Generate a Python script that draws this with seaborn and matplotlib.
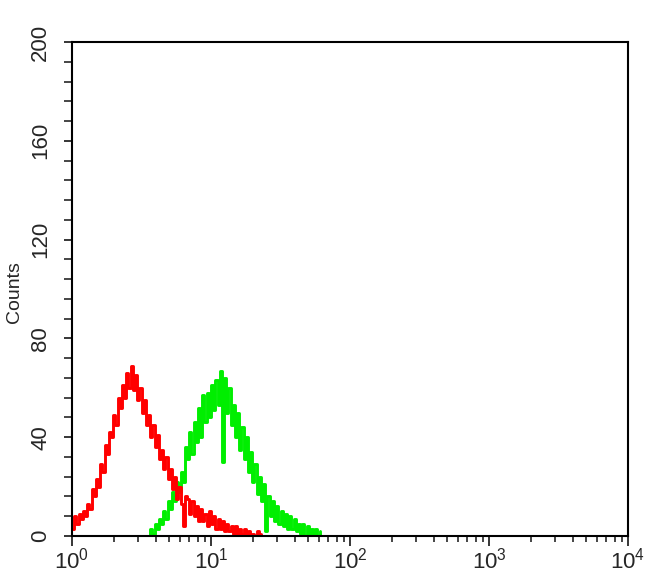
import numpy as np
import pandas as pd
import matplotlib
matplotlib.use("Agg")
import matplotlib.pyplot as plt
import seaborn as sns
from matplotlib.ticker import MultipleLocator, LogLocator, NullFormatter

# ---------------- data ----------------
bins_per_decade = 64          # channel resolution on the log axis
red_start_bin = 0
red_counts = [3, 8, 5, 9, 7, 10, 8, 13, 11, 19, 16, 23, 20, 29, 26, 37, 33, 42,
              40, 49, 45, 56, 52, 61, 56, 66, 60, 69, 59, 65, 55, 60, 50, 55,
              45, 49, 40, 45, 36, 41, 31, 35, 27, 32, 23, 27, 19, 24, 15, 20,
              13, 4, 16, 15, 9, 14, 8, 12, 6, 11, 6, 9, 4, 10, 5, 8, 3, 7, 3,
              6, 2, 5, 2, 4, 1, 4, 0, 3, 1, 3, 0, 2, 0, 1, 0, 2, 0, 1]
green_start_bin = 35
green_counts = [0, 3, 1, 5, 3, 7, 5, 10, 7, 14, 11, 18, 14, 22, 18, 26, 22, 36,
                31, 42, 33, 46, 38, 52, 40, 57, 46, 58, 48, 61, 51, 63, 53, 67,
                30, 64, 50, 60, 45, 53, 40, 50, 35, 44, 31, 40, 26, 34, 22, 29,
                17, 24, 14, 21, 2, 16, 8, 14, 6, 12, 5, 10, 4, 9, 3, 8, 3, 7,
                2, 5, 1, 5, 0, 4, 1, 3, 0, 3, 0, 2]
series_colors = {"red": "#ff0000", "green": "#00ee00"}
y_ticks = [0, 40, 80, 120, 160, 200]
x_tick_exponents = [0, 1, 2, 3, 4]
y_label = "Counts"


def channel_edges(start, n):
    return 10 ** (np.arange(start, start + n) / bins_per_decade)


df = pd.concat([
    pd.DataFrame({"x": channel_edges(green_start_bin, len(green_counts)),
                  "count": green_counts, "series": "green"}),
    pd.DataFrame({"x": channel_edges(red_start_bin, len(red_counts)),
                  "count": red_counts, "series": "red"}),
], ignore_index=True)

# ---------------- style ----------------
sns.set_style("ticks")
plt.rcParams["font.family"] = ["Liberation Sans", "DejaVu Sans"]

fig = plt.figure(figsize=(6.5, 5.85), dpi=100)
ax = fig.add_axes([72 / 650, 49 / 585, 556 / 650, 494 / 585])

for name in ["green", "red"]:
    sub = df[df["series"] == name]
    sns.lineplot(data=sub, x="x", y="count", ax=ax, color=series_colors[name],
                 drawstyle="steps-post", linewidth=2.1, estimator=None,
                 sort=False, legend=False)

ax.set_xscale("log")
ax.set_xlim(1, 1e4)
ax.set_ylim(0, 200)

ax.set_xticks([10.0 ** e for e in x_tick_exponents])
ax.set_xticklabels([r"$\mathdefault{10^{%d}}$" % e for e in x_tick_exponents])
ax.xaxis.set_minor_locator(LogLocator(base=10, subs=np.arange(2, 10), numticks=20))
ax.xaxis.set_minor_formatter(NullFormatter())

ax.set_yticks(y_ticks)
ax.set_yticklabels([str(v) for v in y_ticks])
ax.yaxis.set_minor_locator(MultipleLocator(8))

for s in ax.spines.values():
    s.set_visible(True)
    s.set_linewidth(1.5)
    s.set_color("black")

ax.tick_params(axis="x", which="major", direction="out", length=7, width=1.3,
               labelsize=16, pad=1, top=False)
ax.tick_params(axis="x", which="minor", direction="out", length=4, width=1.2,
               top=False)
ax.tick_params(axis="y", which="major", direction="out", length=6, width=1.3,
               labelsize=16, pad=9, right=False)
ax.tick_params(axis="y", which="minor", direction="out", length=6, width=1.2,
               right=False)
for lab in ax.get_yticklabels():
    lab.set_rotation(90)
    lab.set_va("center")

ax.set_xlabel("")
ax.set_ylabel(y_label, fontsize=14)
ax.yaxis.set_label_coords(-0.088, 0.494)

fig.savefig("out.png", dpi=100, facecolor="white")
